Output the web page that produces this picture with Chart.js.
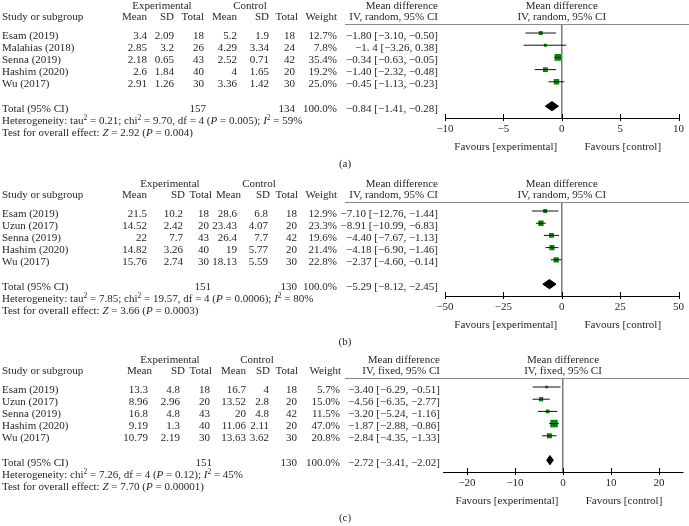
<!DOCTYPE html>
<html>
<head>
<meta charset="utf-8">
<script src="https://cdn.jsdelivr.net/npm/chart.js@4.4.1/dist/chart.umd.min.js"></script>
<style>
html, body { margin: 0; padding: 0; background: #fff; }
body { width: 689px; height: 526px; position: relative; overflow: hidden;
  font-family: "Liberation Serif", "Times New Roman", serif; font-size: 11px; color: #231f20; }
.panel { position: absolute; left: 0; width: 689px; height: 175px; }
.panel canvas { position: absolute; left: 0; top: 0; }
.t { position: absolute; white-space: nowrap; line-height: 12px; }
.rule { position: absolute; left: 345px; width: 344px; height: 1px; background: #8a8a8a; }
sup { font-size: 7.5px; line-height: 0; vertical-align: baseline; position: relative; top: -4px; }
</style>
</head>
<body>
<script>
// ---- (a) ----
const studiesA = ['Esam (2019)', 'Malahias (2018)', 'Senna (2019)', 'Hashim (2020)', 'Wu (2017)'];
const tableA = [
  ['3.4', '2.09', '18', '5.2', '1.9', '18', '12.7%'],
  ['2.85', '3.2', '26', '4.29', '3.34', '24', '7.8%'],
  ['2.18', '0.65', '43', '2.52', '0.71', '42', '35.4%'],
  ['2.6', '1.84', '40', '4', '1.65', '20', '19.2%'],
  ['2.91', '1.26', '30', '3.36', '1.42', '30', '25.0%']
];
const ciTextA = ['−1.80 [−3.10, −0.50]', '−1. 4 [−3.26, 0.38]', '−0.34 [−0.63, −0.05]', '−1.40 [−2.32, −0.48]', '−0.45 [−1.13, −0.23]'];
const mdA = [-1.80, -1.4, -0.34, -1.40, -0.45];
const lowA = [-3.10, -3.26, -0.63, -2.32, -1.13];
const highA = [-0.50, 0.38, -0.05, -0.48, 0.23];
const weightA = [12.7, 7.8, 35.4, 19.2, 25.0];
const totalA = [-0.84, -1.41, -0.28];
const totalTextA = ['157', '134', '100.0%', '−0.84 [−1.41, −0.28]'];
const hetA = 'Heterogeneity: tau<sup>2</sup> = 0.21; chi<sup>2</sup> = 9.70, df = 4 (<i>P</i> = 0.005); <i>I</i><sup>2</sup> = 59%';
const testA = 'Test for overall effect: <i>Z</i> = 2.92 (<i>P</i> = 0.004)';
const ticksA = [-10, -5, 0, 5, 10];

// ---- (b) ----
const studiesB = ['Esam (2019)', 'Uzun (2017)', 'Senna (2019)', 'Hashim (2020)', 'Wu (2017)'];
const tableB = [
  ['21.5', '10.2', '18', '28.6', '6.8', '18', '12.9%'],
  ['14.52', '2.42', '20', '23.43', '4.07', '20', '23.3%'],
  ['22', '7.7', '43', '26.4', '7.7', '42', '19.6%'],
  ['14.82', '3.26', '40', '19', '5.77', '20', '21.4%'],
  ['15.76', '2.74', '30', '18.13', '5.59', '30', '22.8%']
];
const ciTextB = ['−7.10 [−12.76, −1.44]', '−8.91 [−10.99, −6.83]', '−4.40 [−7.67, −1.13]', '−4.18 [−6.90, −1.46]', '−2.37 [−4.60, −0.14]'];
const mdB = [-7.10, -8.91, -4.40, -4.18, -2.37];
const lowB = [-12.76, -10.99, -7.67, -6.90, -4.60];
const highB = [-1.44, -6.83, -1.13, -1.46, -0.14];
const weightB = [12.9, 23.3, 19.6, 21.4, 22.8];
const totalB = [-5.29, -8.12, -2.45];
const totalTextB = ['151', '130', '100.0%', '−5.29 [−8.12, −2.45]'];
const hetB = 'Heterogeneity: tau<sup>2</sup> = 7.85; chi<sup>2</sup> = 19.57, df = 4 (<i>P</i> = 0.0006); <i>I</i><sup>2</sup> = 80%';
const testB = 'Test for overall effect: <i>Z</i> = 3.66 (<i>P</i> = 0.0003)';
const ticksB = [-50, -25, 0, 25, 50];

// ---- (c) ----
const studiesC = ['Esam (2019)', 'Uzun (2017)', 'Senna (2019)', 'Hashim (2020)', 'Wu (2017)'];
const tableC = [
  ['13.3', '4.8', '18', '16.7', '4', '18', '5.7%'],
  ['8.96', '2.96', '20', '13.52', '2.8', '20', '15.0%'],
  ['16.8', '4.8', '43', '20', '4.8', '42', '11.5%'],
  ['9.19', '1.3', '40', '11.06', '2.11', '20', '47.0%'],
  ['10.79', '2.19', '30', '13.63', '3.62', '30', '20.8%']
];
const ciTextC = ['−3.40 [−6.29, −0.51]', '−4.56 [−6.35, −2.77]', '−3.20 [−5.24, −1.16]', '−1.87 [−2.88, −0.86]', '−2.84 [−4.35, −1.33]'];
const mdC = [-3.40, -4.56, -3.20, -1.87, -2.84];
const lowC = [-6.29, -6.35, -5.24, -2.88, -4.35];
const highC = [-0.51, -2.77, -1.16, -0.86, -1.33];
const weightC = [5.7, 15.0, 11.5, 47.0, 20.8];
const totalC = [-2.72, -3.41, -2.02];
const totalTextC = ['151', '130', '100.0%', '−2.72 [−3.41, −2.02]'];
const hetC = 'Heterogeneity: chi<sup>2</sup> = 7.26, df = 4 (<i>P</i> = 0.12); <i>I</i><sup>2</sup> = 45%';
const testC = 'Test for overall effect: <i>Z</i> = 7.70 (<i>P</i> = 0.00001)';
const ticksC = [-20, -10, 0, 10, 20];

const colHeads = ['Mean', 'SD', 'Total', 'Mean', 'SD', 'Total', 'Weight'];

const panels = [
  { label: '(a)', top: 0, studies: studiesA, table: tableA, ciText: ciTextA, md: mdA, low: lowA, high: highA,
    weight: weightA, total: totalA, totalText: totalTextA, het: hetA, test: testA, ticks: ticksA,
    min: -10, max: 10, method: 'IV, random, 95% CI', area: [445, 680],
    colR: [147, 174, 204, 237, 269, 295, 337], headR: [147, 174, 204, 237, 269, 298, 337], expC: 162, ctrlC: 250, mdR: 438 },
  { label: '(b)', top: 178, studies: studiesB, table: tableB, ciText: ciTextB, md: mdB, low: lowB, high: highB,
    weight: weightB, total: totalB, totalText: totalTextB, het: hetB, test: testB, ticks: ticksB,
    min: -50, max: 50, method: 'IV, random, 95% CI', area: [445, 680],
    colR: [147, 183, 209, 237, 268, 297, 337], headR: [147, 185, 212, 241, 270, 298, 337], expC: 170, ctrlC: 259, mdR: 438 },
  { label: '(c)', top: 354, studies: studiesC, table: tableC, ciText: ciTextC, md: mdC, low: lowC, high: highC,
    weight: weightC, total: totalC, totalText: totalTextC, het: hetC, test: testC, ticks: ticksC,
    min: -25, max: 25, method: 'IV, fixed, 95% CI', area: [443, 683],
    colR: [148, 180, 210, 246, 269, 297, 340], headR: [152, 185, 212, 246, 270, 298, 341], expC: 170, ctrlC: 257, mdR: 440 }
];

const AXIS_Y = 118;   // axis line, relative to panel top
const RULE_Y = 24;    // header rule
const fmtTick = v => (v < 0 ? '−' + Math.abs(v) : String(v));

// tick marks that cross the axis line
const crossTicks = {
  id: 'crossTicks',
  afterDraw(chart) {
    const xs = chart.scales.x, b = chart.chartArea.bottom, ctx = chart.ctx;
    ctx.save();
    ctx.strokeStyle = '#000';
    ctx.lineWidth = 1;
    xs.ticks.forEach(t => {
      const px = Math.round(xs.getPixelForValue(t.value)) + 0.5;
      ctx.beginPath();
      ctx.moveTo(px, b - 4);
      ctx.lineTo(px, b + 3);
      ctx.stroke();
    });
    ctx.restore();
  }
};

function txt(wrap, html, x, yc, align) {
  const d = document.createElement('div');
  d.className = 't';
  d.innerHTML = html;
  d.style.top = (yc - 6) + 'px';
  if (align === 'r') {
    d.style.right = (689 - x) + 'px';
  } else if (align === 'c') {
    d.style.left = (x - 100) + 'px';
    d.style.width = '200px';
    d.style.textAlign = 'center';
  } else {
    d.style.left = x + 'px';
  }
  wrap.appendChild(d);
}

function makePanel(p) {
  const wrap = document.createElement('div');
  wrap.className = 'panel';
  wrap.style.top = p.top + 'px';
  document.body.appendChild(wrap);

  const canvas = document.createElement('canvas');
  canvas.width = 689; canvas.height = 175;
  canvas.style.width = '689px'; canvas.style.height = '175px';
  wrap.appendChild(canvas);

  const rows = p.md.length;
  const totalRow = rows + 2;
  const datasets = [];

  // confidence interval whiskers
  p.md.forEach((v, i) => {
    datasets.push({
      data: [{ x: p.low[i], y: i + 1 }, { x: p.high[i], y: i + 1 }],
      showLine: true, borderColor: '#111', borderWidth: 1, pointRadius: 0
    });
  });

  // study squares (area follows weight)
  datasets.push({
    data: p.md.map((v, i) => ({ x: v, y: i + 1 })),
    pointStyle: 'rect',
    pointRadius: p.weight.map(w => Math.sqrt(w) * 0.78),
    backgroundColor: '#0b820b', borderWidth: 0
  });

  // pooled diamond
  const [est, lo, hi] = p.total;
  const dh = 0.38;
  datasets.push({
    data: [{ x: lo, y: totalRow }, { x: est, y: totalRow - dh }, { x: hi, y: totalRow },
           { x: est, y: totalRow + dh }, { x: lo, y: totalRow }],
    showLine: true, fill: 'shape', backgroundColor: '#000', borderColor: '#000',
    borderWidth: 1, pointRadius: 0, tension: 0
  });

  const chart = new Chart(canvas, {
    type: 'scatter',
    data: { datasets },
    plugins: [crossTicks],
    options: {
      responsive: false,
      animation: false,
      devicePixelRatio: 1,
      layout: { padding: { left: p.area[0], right: 689 - p.area[1], top: RULE_Y, bottom: 34 } },
      plugins: { legend: { display: false }, tooltip: { enabled: false } },
      scales: {
        x: {
          type: 'linear', min: p.min, max: p.max,
          afterBuildTicks: s => { s.ticks = p.ticks.map(v => ({ value: v })); },
          ticks: {
            callback: v => fmtTick(v), autoSkip: false, maxRotation: 0, padding: 5,
            color: '#231f20', font: { family: 'Liberation Serif', size: 11 }
          },
          grid: {
            drawTicks: false, drawOnChartArea: true, lineWidth: 1.5,
            color: c => (c.tick && c.tick.value === 0 ? '#7a7a7a' : 'rgba(0,0,0,0)')
          },
          border: { display: true, color: '#000', width: 1 }
        },
        y: { type: 'linear', display: false, reverse: true, min: 0.26, max: 7.97 }
      }
    }
  });

  // put the axis line exactly where the reference has it
  const diff = chart.chartArea.bottom - AXIS_Y;
  if (Math.abs(diff) > 0.01) {
    chart.options.layout.padding.bottom += diff;
    chart.update();
  }

  const ys = chart.scales.y, xs = chart.scales.x;
  const rowY = v => ys.getPixelForValue(v) + 1.5;
  const x0 = xs.getPixelForValue(0);

  // header
  txt(wrap, 'Experimental', p.expC, 5, 'c');
  txt(wrap, 'Control', p.ctrlC, 5, 'c');
  txt(wrap, 'Study or subgroup', 2, 15.5, 'l');
  colHeads.forEach((h, j) => txt(wrap, h, p.headR[j], 15.5, 'r'));
  txt(wrap, 'Mean difference', p.mdR, 5, 'r');
  txt(wrap, p.method, p.mdR, 15.5, 'r');
  txt(wrap, 'Mean difference', x0, 5, 'c');
  txt(wrap, p.method, x0, 15.5, 'c');
  const rule = document.createElement('div');
  rule.className = 'rule';
  rule.style.top = RULE_Y + 'px';
  wrap.appendChild(rule);

  // study rows
  p.studies.forEach((s, i) => {
    const y = rowY(i + 1);
    txt(wrap, s, 2, y, 'l');
    p.table[i].forEach((c, j) => txt(wrap, c, p.colR[j], y, 'r'));
    txt(wrap, p.ciText[i], p.mdR, y, 'r');
  });

  // total row and stats
  const yt = rowY(totalRow);
  txt(wrap, 'Total (95% CI)', 2, yt, 'l');
  txt(wrap, p.totalText[0], p.colR[2] + 2, yt, 'r');
  txt(wrap, p.totalText[1], p.colR[5], yt, 'r');
  txt(wrap, p.totalText[2], p.colR[6], yt, 'r');
  txt(wrap, p.totalText[3], p.mdR, yt, 'r');
  txt(wrap, p.het, 2, rowY(totalRow + 1), 'l');
  txt(wrap, p.test, 2, rowY(totalRow + 2), 'l');

  // favours labels + panel label
  txt(wrap, 'Favours [experimental]', x0 - 56, 145.5, 'c');
  txt(wrap, 'Favours [control]', x0 + 61, 145.5, 'c');
  txt(wrap, p.label, 345, 163, 'c');
}

panels.forEach(makePanel);
</script>
</body>
</html>
